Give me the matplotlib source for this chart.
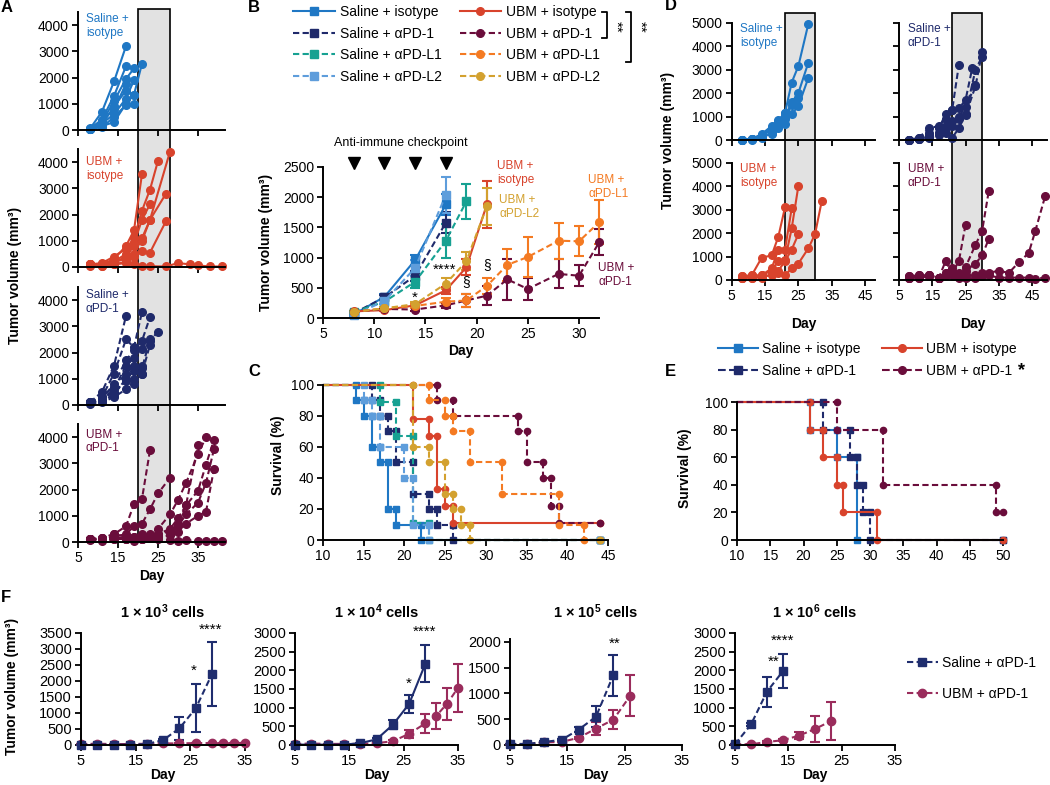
import numpy as np
import matplotlib.pyplot as plt
from matplotlib.lines import Line2D
from matplotlib.patches import Rectangle

plt.rcParams['font.family'] = ['Liberation Sans', 'DejaVu Sans']
plt.rcParams['axes.linewidth'] = 1.4
plt.rcParams['mathtext.fontset'] = 'custom'
plt.rcParams['mathtext.rm'] = 'Liberation Sans'
plt.rcParams['mathtext.bf'] = 'Liberation Sans:bold'
plt.rcParams['mathtext.default'] = 'bf'

# =============================================================================
# COLOURS
# =============================================================================
C_SAL_ISO = '#1f77c4'
C_SAL_PD1 = '#1f2a6b'
C_SAL_PDL1 = '#16a192'
C_SAL_PDL2 = '#5e9ddb'
C_UBM_ISO = '#d8432c'
C_UBM_PD1 = '#6a0d3b'
C_UBM_PDL1 = '#f47a22'
C_UBM_PDL2 = '#d3a12f'
F_SAL = '#1f2d6e'
F_UBM = '#9a2c5c'
DASH = (0, (3, 1.6))

# =============================================================================
# DATA  - panel A (individual mice: days, volume mm3)
# =============================================================================
A_sal_iso = [
    ([8, 11, 14, 17], [50, 700, 1850, 3200]),
    ([8, 11, 14, 17], [50, 400, 1300, 2430]),
    ([8, 11, 14, 17, 19], [40, 300, 1100, 1950, 2350]),
    ([8, 11, 14, 17, 19, 21], [50, 200, 900, 1500, 1350, 2530]),
    ([8, 11, 14, 17, 19], [40, 250, 600, 1200, 1900]),
    ([8, 11, 14, 17, 19], [30, 150, 300, 1000, 1350]),
    ([8, 11, 14, 17], [60, 350, 800, 1750]),
    ([8, 11, 14, 17, 19], [50, 100, 500, 950, 1000]),
]
A_ubm_iso = [
    ([8, 11, 14, 17, 19, 21], [100, 100, 300, 800, 1400, 3550]),
    ([8, 11, 14, 17, 19, 21, 23, 25], [100, 150, 400, 700, 1100, 2150, 2950, 4050]),
    ([8, 11, 14, 17, 19, 21, 23], [80, 100, 200, 500, 900, 1800, 2400]),
    ([8, 11, 14, 17, 19, 21, 23, 27], [100, 80, 150, 400, 800, 1000, 1800, 2800]),
    ([8, 11, 14, 17, 19, 21, 23, 28], [50, 100, 200, 300, 500, 1100, 1800, 4400]),
    ([8, 11, 14, 17, 19, 21, 23, 27], [100, 50, 100, 200, 400, 600, 550, 1750]),
    ([8, 11, 14, 17, 19, 21, 23, 27, 30, 33, 35, 38, 41],
     [100, 50, 100, 150, 100, 50, 30, 20, 150, 100, 60, 20, 20]),
]
A_sal_pd1 = [
    ([8, 11, 14, 17], [100, 500, 1500, 3400]),
    ([8, 11, 14, 17, 19, 21], [100, 300, 1200, 2500, 2200, 3550]),
    ([8, 11, 14, 17, 19, 21, 23], [80, 250, 800, 1700, 2100, 2450, 3350]),
    ([8, 11, 14, 17, 19, 21, 23, 25], [100, 200, 600, 1500, 1800, 2150, 2450, 2800]),
    ([8, 11, 14, 17, 19, 21, 23], [50, 150, 400, 1000, 1300, 1200, 2300]),
    ([8, 11, 14, 17, 19, 21], [100, 300, 700, 1200, 1500, 1500]),
    ([8, 11, 14, 17, 19, 21], [60, 100, 300, 600, 800, 1200]),
    ([8, 11, 14, 17, 19, 21, 23], [100, 200, 500, 900, 1000, 1400, 2500]),
]
A_ubm_pd1 = [
    ([8, 11, 14, 17, 19, 21, 23], [100, 150, 300, 600, 1450, 1650, 3500]),
    ([8, 11, 14, 17, 19, 21, 23, 25, 28], [100, 100, 200, 300, 600, 700, 1250, 1850, 2450]),
    ([8, 11, 14, 17, 19, 21, 23, 25, 28, 30, 32, 35, 37],
     [100, 150, 300, 200, 150, 200, 300, 500, 1050, 1600, 2250, 3350, 4000]),
    ([8, 11, 14, 17, 19, 21, 23, 25, 28, 30, 32, 35, 37, 39],
     [80, 100, 200, 100, 200, 300, 200, 300, 500, 900, 1400, 1950, 2950, 3900]),
    ([8, 11, 14, 17, 19, 21, 23, 25, 28, 30, 32, 35, 37, 39],
     [100, 100, 150, 100, 100, 150, 200, 200, 300, 600, 1050, 1500, 2250, 3550]),
    ([8, 11, 14, 17, 19, 21, 23, 25, 28, 30, 32, 35],
     [100, 50, 100, 200, 100, 100, 200, 300, 400, 700, 1400, 3700]),
    ([8, 11, 14, 17, 19, 21, 23, 25, 28, 30, 32, 35, 37, 39],
     [100, 150, 100, 150, 200, 100, 150, 200, 250, 400, 700, 1000, 1150, 2800]),
    ([8, 11, 14, 17, 19, 21, 23, 25, 28, 30, 32, 35, 37, 39, 41],
     [100, 100, 150, 100, 50, 100, 150, 100, 80, 50, 60, 50, 40, 30, 20]),
]

# =============================================================================
# DATA  - panel B (mean +/- SEM)
# =============================================================================
B_days_sal = [8, 11, 14, 17]
B_days_pdl1 = [8, 11, 14, 17, 19]
B_days_short = [8, 11, 14, 17, 19, 21]
B_days_long = [8, 11, 14, 17, 19, 21, 23, 25, 28, 30, 32]
B_sal_iso = [60, 350, 960, 1880]
B_sal_iso_e = [10, 40, 80, 180]
B_sal_pd1 = [80, 340, 700, 1580]
B_sal_pd1_e = [10, 40, 80, 180]
B_sal_pdl1 = [100, 270, 600, 1280, 1930]
B_sal_pdl1_e = [10, 30, 100, 280, 290]
B_sal_pdl2 = [50, 280, 830, 2040]
B_sal_pdl2_e = [10, 40, 130, 300]
B_ubm_iso = [110, 130, 210, 460, 840, 1880]
B_ubm_iso_e = [10, 20, 30, 60, 130, 390]
B_ubm_pd1 = [100, 150, 140, 210, 290, 370, 640, 480, 730, 700, 1260]
B_ubm_pd1_e = [10, 20, 20, 40, 100, 160, 340, 190, 240, 170, 220]
B_ubm_pdl1 = [100, 160, 200, 270, 290, 530, 880, 1010, 1280, 1270, 1590]
B_ubm_pdl1_e = [10, 20, 30, 60, 100, 140, 270, 330, 300, 250, 360]
B_ubm_pdl2 = [100, 160, 230, 570, 940, 1850]
B_ubm_pdl2_e = [10, 20, 40, 90, 150, 310]
B_inject_days = [8, 11, 14, 17]

# =============================================================================
# DATA  - panel C survival (event day, survival after event)
# =============================================================================
C_sal_iso_t = [14, 15, 16, 17, 18, 19, 22]
C_sal_iso_s = [90, 80, 60, 50, 20, 10, 0]
C_sal_pd1_t = [16, 17, 18, 19, 21, 23, 24, 26]
C_sal_pd1_s = [90, 80, 70, 50, 30, 20, 10, 0]
C_sal_pdl1_t = [17, 19, 21, 23]
C_sal_pdl1_s = [89, 67, 11, 0]
C_sal_pdl2_t = [15, 16, 17, 20, 21, 23]
C_sal_pdl2_s = [90, 80, 60, 40, 10, 0]
C_ubm_iso_t = [21, 23, 24, 25, 26]
C_ubm_iso_s = [78, 67, 33, 22, 11]
C_ubm_pd1_t = [24, 26, 34, 35, 37, 38, 39]
C_ubm_pd1_s = [90, 80, 70, 50, 40, 22, 11]
C_ubm_pdl1_t = [23, 25, 26, 28, 32, 39, 42]
C_ubm_pdl1_s = [90, 80, 70, 50, 30, 10, 0]
C_ubm_pdl2_t = [21, 23, 25, 26, 27, 28]
C_ubm_pdl2_s = [60, 50, 30, 20, 10, 0]

# =============================================================================
# DATA  - panel D (individual mice)
# =============================================================================
D_sal_iso = [
    ([8, 11, 14, 17, 19, 21, 23, 25, 28], [0, 50, 250, 600, 850, 1150, 2450, 3150, 4950]),
    ([8, 11, 14, 17, 19, 21, 23, 25, 28], [0, 30, 200, 400, 700, 1000, 1600, 2000, 3300]),
    ([8, 11, 14, 17, 19, 21, 23, 25, 28], [0, 20, 100, 300, 500, 700, 1100, 1450, 2650]),
    ([8, 11, 14, 17, 19, 21, 23, 25], [0, 40, 150, 250, 600, 900, 1500, 1800]),
    ([8, 11, 14, 17, 19, 21], [0, 30, 200, 500, 750, 1150]),
]
D_sal_pd1 = [
    ([8, 11, 14, 17, 19, 21, 23], [0, 100, 500, 600, 900, 1300, 3200]),
    ([8, 11, 14, 17, 19, 21, 23, 25, 27], [0, 80, 300, 500, 1100, 1300, 1350, 1700, 3050]),
    ([8, 11, 14, 17, 19, 21, 23, 25, 28], [0, 50, 200, 300, 600, 800, 1000, 1400, 2350]),
    ([8, 11, 14, 17, 19, 21, 23, 25, 28, 30], [0, 60, 150, 300, 500, 600, 900, 1050, 2300, 3750]),
    ([8, 11, 14, 17, 19, 21, 23, 25, 28, 30], [0, 40, 100, 200, 300, 100, 500, 1100, 3000, 3550]),
]
D_ubm_iso = [
    ([8, 11, 14, 17, 19, 21], [150, 200, 950, 1050, 1850, 3100]),
    ([8, 11, 14, 17, 19, 21, 23], [100, 150, 200, 500, 1300, 1300, 3050]),
    ([8, 11, 14, 17, 19, 21, 23, 25], [150, 200, 200, 400, 800, 850, 2200, 4000]),
    ([8, 11, 14, 17, 19, 21, 23, 25], [100, 100, 100, 250, 400, 800, 1300, 1950]),
    ([8, 11, 14, 17, 19, 21, 23, 25, 28, 30, 32], [100, 100, 150, 200, 300, 200, 500, 700, 1350, 1950, 3350]),
]
D_ubm_pd1 = [
    ([8, 11, 14, 17, 19, 21, 23, 25], [150, 200, 200, 100, 800, 300, 800, 2350]),
    ([8, 11, 14, 17, 19, 21, 23, 25, 28, 30, 32], [100, 150, 200, 100, 300, 400, 300, 550, 1500, 2100, 3800]),
    ([8, 11, 14, 17, 19, 21, 23, 25, 28, 30, 32], [100, 100, 150, 100, 200, 500, 200, 400, 700, 1050, 1750]),
    ([8, 11, 14, 17, 19, 21, 23, 25, 28, 30, 32, 35, 38, 41, 44, 46, 49],
     [150, 200, 200, 100, 200, 300, 200, 200, 200, 300, 300, 400, 300, 750, 1150, 2100, 3600]),
    ([8, 11, 14, 17, 19, 21, 23, 25, 28, 30, 32, 35, 38, 41, 44, 46, 49],
     [100, 100, 150, 100, 300, 200, 100, 100, 100, 150, 200, 100, 100, 100, 100, 50, 100]),
]

# =============================================================================
# DATA  - panel E survival
# =============================================================================
E_sal_iso_t = [21, 25, 28]
E_sal_iso_s = [80, 60, 0]
E_sal_pd1_t = [23, 27, 28, 29, 30]
E_sal_pd1_s = [80, 60, 40, 20, 0]
E_ubm_iso_t = [21, 23, 25, 26, 31]
E_ubm_iso_s = [80, 60, 40, 20, 0]
E_ubm_pd1_t = [25, 32, 49]
E_ubm_pd1_s = [80, 40, 20]

# =============================================================================
# DATA  - panel F (mean +/- SEM per inoculum)
# =============================================================================
F_exps = [3, 4, 5, 6]
F1_sal_d = [5, 8, 11, 14, 17, 20, 23, 26, 29]
F1_sal = [10, 10, 10, 10, 30, 150, 520, 1150, 2230]
F1_sal_e = [0, 0, 0, 0, 10, 30, 360, 750, 1000]
F1_ubm_d = [5, 8, 11, 14, 17, 20, 23, 26, 29, 31, 33, 35]
F1_ubm = [30, 40, 30, 30, 40, 50, 50, 60, 60, 50, 60, 70]
F1_ubm_e = [0, 0, 0, 0, 0, 0, 0, 0, 0, 0, 0, 0]
F2_sal_d = [5, 8, 11, 14, 17, 20, 23, 26, 29]
F2_sal = [10, 10, 10, 10, 50, 150, 540, 1100, 2180]
F2_sal_e = [0, 0, 0, 0, 10, 30, 120, 240, 500]
F2_ubm_d = [5, 8, 11, 14, 17, 20, 23, 26, 29, 31, 33, 35]
F2_ubm = [30, 40, 30, 30, 30, 50, 100, 300, 580, 780, 1110, 1530]
F2_ubm_e = [0, 0, 0, 0, 0, 10, 40, 100, 250, 340, 430, 640]
F3_sal_d = [5, 8, 11, 14, 17, 20, 23]
F3_sal = [20, 20, 60, 100, 300, 550, 1350]
F3_sal_e = [0, 0, 10, 20, 40, 200, 400]
F3_ubm_d = [5, 8, 11, 14, 17, 20, 23, 26]
F3_ubm = [20, 20, 50, 60, 140, 320, 490, 960]
F3_ubm_e = [0, 0, 10, 10, 20, 130, 180, 400]
F4_sal_d = [5, 8, 11, 14]
F4_sal = [20, 550, 1430, 1980]
F4_sal_e = [0, 50, 400, 460]
F4_ubm_d = [5, 8, 11, 14, 17, 20, 23]
F4_ubm = [20, 20, 80, 130, 250, 430, 640]
F4_ubm_e = [0, 0, 20, 30, 100, 340, 500]

# =============================================================================
# HELPERS
# =============================================================================
W, H = 1050, 785
fig = plt.figure(figsize=(10.5, 7.85), dpi=100)


def rect(l, t, r, b):
    return [l / W, 1 - b / H, (r - l) / W, (b - t) / H]


def fx(x):
    return x / W


def fy(y):
    return 1 - y / H


def style(ax, xlim, ylim, xticks, yticks, xlab=True, ylab=True, fs=10):
    ax.set_xlim(xlim)
    ax.set_ylim(ylim)
    ax.set_xticks(xticks)
    ax.set_yticks(yticks)
    ax.spines['top'].set_visible(False)
    ax.spines['right'].set_visible(False)
    ax.tick_params(direction='out', length=4, width=1.3, labelsize=fs, pad=2.5)
    if not xlab:
        ax.set_xticklabels([])
    if not ylab:
        ax.set_yticklabels([])
    ax.set_facecolor('none')


def spaghetti(ax, mice, color, ls):
    for d, v in mice:
        ax.plot(d, v, color=color, ls=ls, lw=1.5, marker='o', ms=5.5, clip_on=False)


def km(t0, t_end, times, surv):
    x, y, prev = [t0], [100], 100
    for t, s in zip(times, surv):
        x += [t, t]
        y += [prev, s]
        prev = s
    x.append(t_end)
    y.append(prev)
    return x, y


def km_plot(ax, t0, t_end, times, surv, color, ls, mk):
    x, y = km(t0, t_end, times, surv)
    ax.plot(x, y, color=color, ls=ls, lw=1.5, marker=mk, ms=4.5,
            markevery=slice(1, None), clip_on=False)


def vlabel(x, y, s):
    fig.text(fx(x), fy(y), s, rotation=90, ha='center', va='center',
             fontsize=10, fontweight='bold')


def letter(x, y, s):
    fig.text(fx(x), fy(y), s, ha='left', va='center', fontsize=12, fontweight='bold')


# =============================================================================
# PANEL A
# =============================================================================
fig.add_artist(Rectangle((fx(138), fy(542)), fx(170) - fx(138), fy(9) - fy(542),
                         transform=fig.transFigure, facecolor='#e2e2e2',
                         edgecolor='black', lw=1.2, zorder=-1))
A_rects = [(78, 12, 225, 130), (78, 149, 225, 267), (78, 287, 225, 405), (78, 424, 225, 542)]
A_sets = [(A_sal_iso, C_SAL_ISO, '-', 'Saline +\nisotype', 3980),
          (A_ubm_iso, C_UBM_ISO, '-', 'UBM +\nisotype', 3730),
          (A_sal_pd1, C_SAL_PD1, DASH, 'Saline +\nαPD-1', 3920),
          (A_ubm_pd1, C_UBM_PD1, DASH, 'UBM +\nαPD-1', 3830)]
for i, (r, (mice, col, ls, lab, ly)) in enumerate(zip(A_rects, A_sets)):
    ax = fig.add_axes(rect(*r))
    spaghetti(ax, mice, col, ls)
    style(ax, (5, 41.75), (0, 4500), [5, 15, 25, 35], [0, 1000, 2000, 3000, 4000],
          xlab=(i == 3))
    ax.text(7, ly, lab, color=col, fontsize=8.5, va='center', ha='left')
    if i == 3:
        ax.set_xlabel('Day', fontsize=10, fontweight='bold', labelpad=3)
vlabel(15, 275, 'Tumor volume (mm³)')
letter(1, 8, 'A')

# =============================================================================
# PANEL B
# =============================================================================
axB = fig.add_axes(rect(323, 167, 599.5, 318))
B_series = [
    (B_days_sal, B_sal_iso, B_sal_iso_e, C_SAL_ISO, '-', 's', 'Saline + isotype'),
    (B_days_sal, B_sal_pd1, B_sal_pd1_e, C_SAL_PD1, DASH, 's', 'Saline + αPD-1'),
    (B_days_pdl1, B_sal_pdl1, B_sal_pdl1_e, C_SAL_PDL1, DASH, 's', 'Saline + αPD-L1'),
    (B_days_sal, B_sal_pdl2, B_sal_pdl2_e, C_SAL_PDL2, DASH, 's', 'Saline + αPD-L2'),
    (B_days_short, B_ubm_iso, B_ubm_iso_e, C_UBM_ISO, '-', 'o', 'UBM + isotype'),
    (B_days_long, B_ubm_pd1, B_ubm_pd1_e, C_UBM_PD1, DASH, 'o', 'UBM + αPD-1'),
    (B_days_long, B_ubm_pdl1, B_ubm_pdl1_e, C_UBM_PDL1, DASH, 'o', 'UBM + αPD-L1'),
    (B_days_short, B_ubm_pdl2, B_ubm_pdl2_e, C_UBM_PDL2, DASH, 'o', 'UBM + αPD-L2'),
]
B_handles = []
for d, v, e, col, ls, mk, lab in B_series:
    cont = axB.errorbar(d, v, yerr=e, color=col, ls=ls, lw=1.5, marker=mk, ms=5.5,
                        capsize=3.5, elinewidth=1.5, capthick=1.5, clip_on=False)
    cont[0].set_label(lab)
    B_handles.append(cont[0])
style(axB, (5, 32), (0, 2500), [5, 10, 15, 20, 25, 30], [0, 500, 1000, 1500, 2000, 2500])
axB.set_xlabel('Day', fontsize=10, fontweight='bold', labelpad=2)
axB.plot(B_inject_days, [2570] * len(B_inject_days), 'v', color='black', ms=8, clip_on=False)
axB.text(12.6, 2890, 'Anti-immune checkpoint', fontsize=9, ha='center', va='center')
axB.text(22.0, 2400, 'UBM +\nisotype', color=C_UBM_ISO, fontsize=8.5, va='center')
axB.text(22.2, 1840, 'UBM +\nαPD-L2', color=C_UBM_PDL2, fontsize=8.5, va='center')
axB.text(30.9, 2170, 'UBM +\nαPD-L1', color=C_UBM_PDL1, fontsize=8.5, va='center')
axB.text(31.9, 710, 'UBM +\nαPD-1', color=C_UBM_PD1, fontsize=8.5, va='center')
axB.text(14, 330, '*', fontsize=11, ha='center', va='center')
axB.text(16.9, 800, '****', fontsize=11, ha='center', va='center')
axB.text(19, 600, '§', fontsize=10, ha='center', va='center')
axB.text(21, 880, '§', fontsize=10, ha='center', va='center')
fig.legend(handles=B_handles, ncol=2, loc='upper left', bbox_to_anchor=(fx(293), fy(5)),
           frameon=False, fontsize=10, handlelength=3, handletextpad=0.35,
           columnspacing=1.3, labelspacing=0.55, borderpad=0, borderaxespad=0)
for xb, yb in [(607, 38), (631, 62)]:
    fig.add_artist(Line2D([fx(xb - 5), fx(xb), fx(xb), fx(xb - 5)],
                          [fy(12), fy(12), fy(yb), fy(yb)],
                          transform=fig.transFigure, color='black', lw=1.3))
    fig.text(fx(xb + 9), fy(27), '**', rotation=270, ha='center', va='center', fontsize=11)
vlabel(266, 242, 'Tumor volume (mm³)')
letter(248, 8, 'B')

# =============================================================================
# PANEL C
# =============================================================================
axC = fig.add_axes(rect(323, 385, 608, 540))
C_series = [
    (C_sal_iso_t, C_sal_iso_s, C_SAL_ISO, '-', 's'),
    (C_sal_pd1_t, C_sal_pd1_s, C_SAL_PD1, DASH, 's'),
    (C_sal_pdl1_t, C_sal_pdl1_s, C_SAL_PDL1, DASH, 's'),
    (C_sal_pdl2_t, C_sal_pdl2_s, C_SAL_PDL2, DASH, 's'),
    (C_ubm_iso_t, C_ubm_iso_s, C_UBM_ISO, '-', 'o'),
    (C_ubm_pd1_t, C_ubm_pd1_s, C_UBM_PD1, DASH, 'o'),
    (C_ubm_pdl1_t, C_ubm_pdl1_s, C_UBM_PDL1, DASH, 'o'),
    (C_ubm_pdl2_t, C_ubm_pdl2_s, C_UBM_PDL2, DASH, 'o'),
]
for t, s, col, ls, mk in C_series:
    km_plot(axC, 10, 44, t, s, col, ls, mk)
style(axC, (10, 45), (0, 100), [10, 15, 20, 25, 30, 35, 40, 45], [0, 20, 40, 60, 80, 100])
vlabel(278, 455, 'Survival (%)')
letter(248, 372, 'C')

# =============================================================================
# PANEL D
# =============================================================================
for gx0, gx1 in [(785, 815), (952, 982)]:
    fig.add_artist(Rectangle((fx(gx0), fy(280)), fx(gx1) - fx(gx0), fy(13) - fy(280),
                             transform=fig.transFigure, facecolor='#e2e2e2',
                             edgecolor='black', lw=1.2, zorder=-1))
D_rects = [(731.7, 22.7, 875, 140), (899, 22.7, 1047, 140),
           (731.7, 162.7, 875, 280), (899, 162.7, 1047, 280)]
D_xmax = [48, 49.5, 48, 49.5]
D_sets = [(D_sal_iso, C_SAL_ISO, '-', 'Saline +\nisotype'),
          (D_sal_pd1, C_SAL_PD1, DASH, 'Saline +\nαPD-1'),
          (D_ubm_iso, C_UBM_ISO, '-', 'UBM +\nisotype'),
          (D_ubm_pd1, C_UBM_PD1, DASH, 'UBM +\nαPD-1')]
for i, (r, xm, (mice, col, ls, lab)) in enumerate(zip(D_rects, D_xmax, D_sets)):
    ax = fig.add_axes(rect(*r))
    spaghetti(ax, mice, col, ls)
    style(ax, (5, xm), (0, 5000), [5, 15, 25, 35, 45], [0, 1000, 2000, 3000, 4000, 5000],
          xlab=(i >= 2), ylab=(i % 2 == 0))
    ax.text(7.6, 4430, lab, color=col, fontsize=8.5, va='center', ha='left')
    if i >= 2:
        ax.set_xlabel('Day', fontsize=10, fontweight='bold', labelpad=10)
vlabel(668, 140, 'Tumor volume (mm³)')
letter(665, 6, 'D')

# =============================================================================
# PANEL E
# =============================================================================
axE = fig.add_axes(rect(737, 402, 1003, 540))
E_series = [
    (E_sal_iso_t, E_sal_iso_s, C_SAL_ISO, '-', 's', 'Saline + isotype'),
    (E_sal_pd1_t, E_sal_pd1_s, C_SAL_PD1, DASH, 's', 'Saline + αPD-1'),
    (E_ubm_iso_t, E_ubm_iso_s, C_UBM_ISO, '-', 'o', 'UBM + isotype'),
    (E_ubm_pd1_t, E_ubm_pd1_s, C_UBM_PD1, DASH, 'o', 'UBM + αPD-1'),
]
E_handles = []
for t, s, col, ls, mk, lab in E_series:
    x, y = km(10, 50, t, s)
    ln, = axE.plot(x, y, color=col, ls=ls, lw=1.5, marker=mk, ms=4.5,
                   markevery=slice(1, None), clip_on=False, label=lab)
    E_handles.append(ln)
style(axE, (10, 50), (0, 100), [10, 15, 20, 25, 30, 35, 40, 45, 50], [0, 20, 40, 60, 80, 100])
leg_h = [Line2D([], [], color=h.get_color(), ls=h.get_linestyle(), lw=1.5,
                marker=h.get_marker(), ms=5.5) for h in E_handles]
fig.legend(leg_h, [h.get_label() for h in E_handles], ncol=2, loc='upper left',
           bbox_to_anchor=(fx(718), fy(342)), frameon=False, fontsize=10,
           handlelength=2.9, handletextpad=0.3, columnspacing=1.5, labelspacing=0.55,
           borderpad=0, borderaxespad=0)
fig.text(fx(1021), fy(371), '*', fontsize=13, fontweight='bold', ha='center', va='center')
vlabel(685, 468, 'Survival (%)')
letter(665, 372, 'E')

# =============================================================================
# PANEL F
# =============================================================================
F_rects = [(81, 633, 245, 745), (295, 633, 458, 745), (510, 639.4, 682, 745), (735, 633, 895, 745)]
F_ylims = [3500, 3000, 2050, 3000]
F_yticks = [np.arange(0, 3501, 500), np.arange(0, 3001, 500),
            np.arange(0, 2001, 500), np.arange(0, 3001, 500)]
F_data = [(F1_sal_d, F1_sal, F1_sal_e, F1_ubm_d, F1_ubm, F1_ubm_e, DASH),
          (F2_sal_d, F2_sal, F2_sal_e, F2_ubm_d, F2_ubm, F2_ubm_e, '-'),
          (F3_sal_d, F3_sal, F3_sal_e, F3_ubm_d, F3_ubm, F3_ubm_e, DASH),
          (F4_sal_d, F4_sal, F4_sal_e, F4_ubm_d, F4_ubm, F4_ubm_e, DASH)]
F_stars = [[(25.6, 2330, '*'), (28.7, 3600, '****')],
           [(25.9, 1650, '*'), (28.9, 3040, '****')],
           [(23.3, 1960, '**')],
           [(12.2, 2240, '**'), (13.9, 2800, '****')]]
for i in range(4):
    l, t, r, b = F_rects[i]
    ax = fig.add_axes(rect(l, t, r, b))
    sd, sv, se, ud, uv, ue, sls = F_data[i]
    ax.errorbar(ud, uv, yerr=ue, color=F_UBM, ls=DASH, lw=1.5, marker='o', ms=6,
                capsize=3.5, elinewidth=1.5, capthick=1.5, clip_on=False)
    ax.errorbar(sd, sv, yerr=se, color=F_SAL, ls=sls, lw=1.5, marker='s', ms=6,
                capsize=3.5, elinewidth=1.5, capthick=1.5, clip_on=False)
    style(ax, (5, 35), (0, F_ylims[i]), [5, 15, 25, 35], F_yticks[i], fs=10.5)
    ax.set_xlabel('Day', fontsize=10, fontweight='bold', labelpad=0)
    fig.text(fx((l + r) / 2), fy(612), '1 × 10$^{%d}$ cells' % F_exps[i],
             fontsize=10.5, fontweight='bold', ha='center', va='center')
    for sx, sy, st in F_stars[i]:
        ax.text(sx, sy, st, fontsize=11, ha='center', va='center')
fig.legend([Line2D([], [], color=F_SAL, ls=DASH, lw=1.5, marker='s', ms=6),
            Line2D([], [], color=F_UBM, ls=DASH, lw=1.5, marker='o', ms=6)],
           ['Saline + αPD-1', 'UBM + αPD-1'], loc='upper left',
           bbox_to_anchor=(fx(907), fy(656)), frameon=False, fontsize=10,
           handlelength=2.2, handletextpad=0.3, labelspacing=1.2,
           borderpad=0, borderaxespad=0)
vlabel(12, 686, 'Tumor volume (mm³)')
letter(1, 598, 'F')

fig.savefig('out.png', dpi=100)
